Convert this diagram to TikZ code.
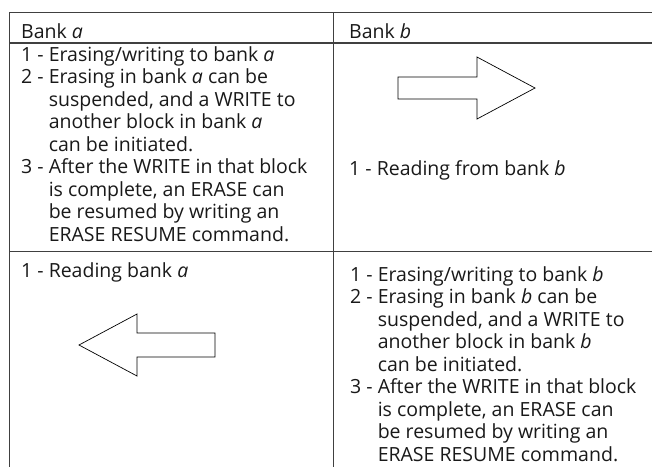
\documentclass[tikz,border=0pt]{standalone}
\usepackage{fontspec}
\setmainfont{Open Sans}
\newcommand{\hangin}{\hphantom{2 - }}
\begin{document}
\begin{tikzpicture}[x=1pt,y=-1pt, line join=miter, font=\fontsize{19.5}{22.5}\selectfont,
  rule/.style={draw=black!75, line width=0.9pt},
  blockarrow/.style={draw=black, line width=0.7pt, fill=white},
  celltext/.style={anchor=base west, inner sep=0pt, align=left, text=black!90}]
\useasboundingbox (0,0) rectangle (652,467);
% table rules
\draw[rule] (9,12)--(652,12);
\draw[rule,line width=1.1pt] (9,43)--(652,43);
\draw[rule] (9,251)--(652,251);
\draw[rule] (9,12)--(9,467);
\draw[rule] (333,12)--(333,467);
% headers
\node[celltext] (hdA) at (21,38) {Bank \textit{a}};
\node[celltext] (hdB) at (349,38) {Bank \textit{b}};
% first row (multi-line nodes sit on the baseline of their last line)
\node[celltext] (eraseA) at (21,241) {1 - Erasing/writing to bank \textit{a}\\
2 - Erasing in bank \textit{a} can be\\
\hangin suspended, and a WRITE to\\
\hangin another block in bank \textit{a}\\
\hangin can be initiated.\\
3 - After the WRITE in that block\\
\hangin is complete, an ERASE can\\
\hangin be resumed by writing an\\
\hangin ERASE RESUME command.};
\draw[blockarrow] (398,77)--(477,77)--(477,57)--(535,88)--(477,119)--(477,99)--(398,99)--cycle;
\node[celltext] (readB) at (349,175) {1 - Reading from bank \textit{b}};
% second row
\node[celltext] (readA) at (21,277) {1 - Reading bank \textit{a}};
\draw[blockarrow] (215,333)--(137,333)--(137,314)--(79,345)--(137,376)--(137,357)--(215,357)--cycle;
\node[celltext] (eraseB) at (350,461) {1 - Erasing/writing to bank \textit{b}\\
2 - Erasing in bank \textit{b} can be\\
\hangin suspended, and a WRITE to\\
\hangin another block in bank \textit{b}\\
\hangin can be initiated.\\
3 - After the WRITE in that block\\
\hangin is complete, an ERASE can\\
\hangin be resumed by writing an\\
\hangin ERASE RESUME command.};
\end{tikzpicture}
\end{document}
